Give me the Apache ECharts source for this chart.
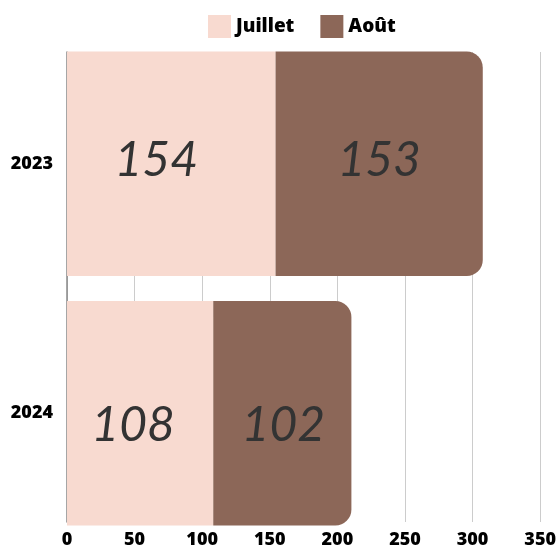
<!DOCTYPE html>
<html>
<head>
<meta charset="utf-8">
<script src="https://cdn.jsdelivr.net/npm/echarts@6/dist/echarts.min.js"></script>
<style>
  html, body { margin: 0; padding: 0; background: #fff; }
  #main { width: 559px; height: 549px; }
</style>
</head>
<body>
<div id="main"></div>
<script>
const years = ["2023", "2024"];
const juillet = [154, 108];
const aout = [153, 102];
const xTicks = [0, 350, 50]; // min, max, interval

var chart = echarts.init(document.getElementById("main"));

var labelStyle = {
  show: true,
  position: "inside",
  fontFamily: "Lato",
  fontStyle: "italic",
  fontSize: 48,
  color: "#333333",
};

// labels in the original sit a little off the bar centres
function withOffsets(values, offsets) {
  return values.map(function (v, i) {
    return { value: v, label: { offset: offsets[i] } };
  });
}

var axisText = {
  fontFamily: "Open Sans",
  fontWeight: 800,
  fontSize: 18,
  color: "#000",
};

var option = {
  animation: false,
  legend: {
    left: 203,
    top: 10,
    icon: "rect",
    itemWidth: 23,
    itemHeight: 23,
    itemGap: 26,
    textStyle: {
      fontFamily: "Open Sans",
      fontWeight: 800,
      fontSize: 19,
      color: "#000",
    },
    data: ["Juillet", "Août"],
  },
  grid: [
    { left: 67, right: 18, top: 39, bottom: 11 },
    { left: 67, right: 18, top: 52, bottom: 24 },
  ],
  xAxis: [
    {
      gridIndex: 0,
      type: "value",
      min: xTicks[0],
      max: xTicks[1],
      interval: xTicks[2],
      show: false,
    },
    {
      gridIndex: 1,
      type: "value",
      min: xTicks[0],
      max: xTicks[1],
      interval: xTicks[2],
      axisLine: { show: false },
      axisTick: { show: false },
      splitLine: { lineStyle: { color: "#cccccc", width: 1 } },
      axisLabel: Object.assign({ margin: 9 }, axisText),
    },
  ],
  yAxis: [
    {
      gridIndex: 0,
      type: "category",
      inverse: true,
      data: years,
      axisLine: { show: false },
      axisTick: { show: false },
      axisLabel: Object.assign({ margin: 14 }, axisText),
    },
    {
      gridIndex: 1,
      type: "category",
      data: years,
      axisLine: { show: true, lineStyle: { color: "#888888", width: 1.5 } },
      axisTick: { show: false },
      axisLabel: { show: false },
    },
  ],
  series: [
    {
      name: "Juillet",
      type: "bar",
      stack: "total",
      xAxisIndex: 0,
      yAxisIndex: 0,
      barCategoryGap: "10%",
      itemStyle: { color: "#F8DAD0" },
      label: labelStyle,
      data: withOffsets(juillet, [[-15, -3], [-7, 12]]),
    },
    {
      name: "Août",
      type: "bar",
      stack: "total",
      xAxisIndex: 0,
      yAxisIndex: 0,
      barCategoryGap: "10%",
      itemStyle: { color: "#8C6758", borderRadius: [0, 16, 16, 0] },
      label: labelStyle,
      data: withOffsets(aout, [[0, -3], [1, 12]]),
    },
  ],
};

option && chart.setOption(option);
</script>
</body>
</html>
